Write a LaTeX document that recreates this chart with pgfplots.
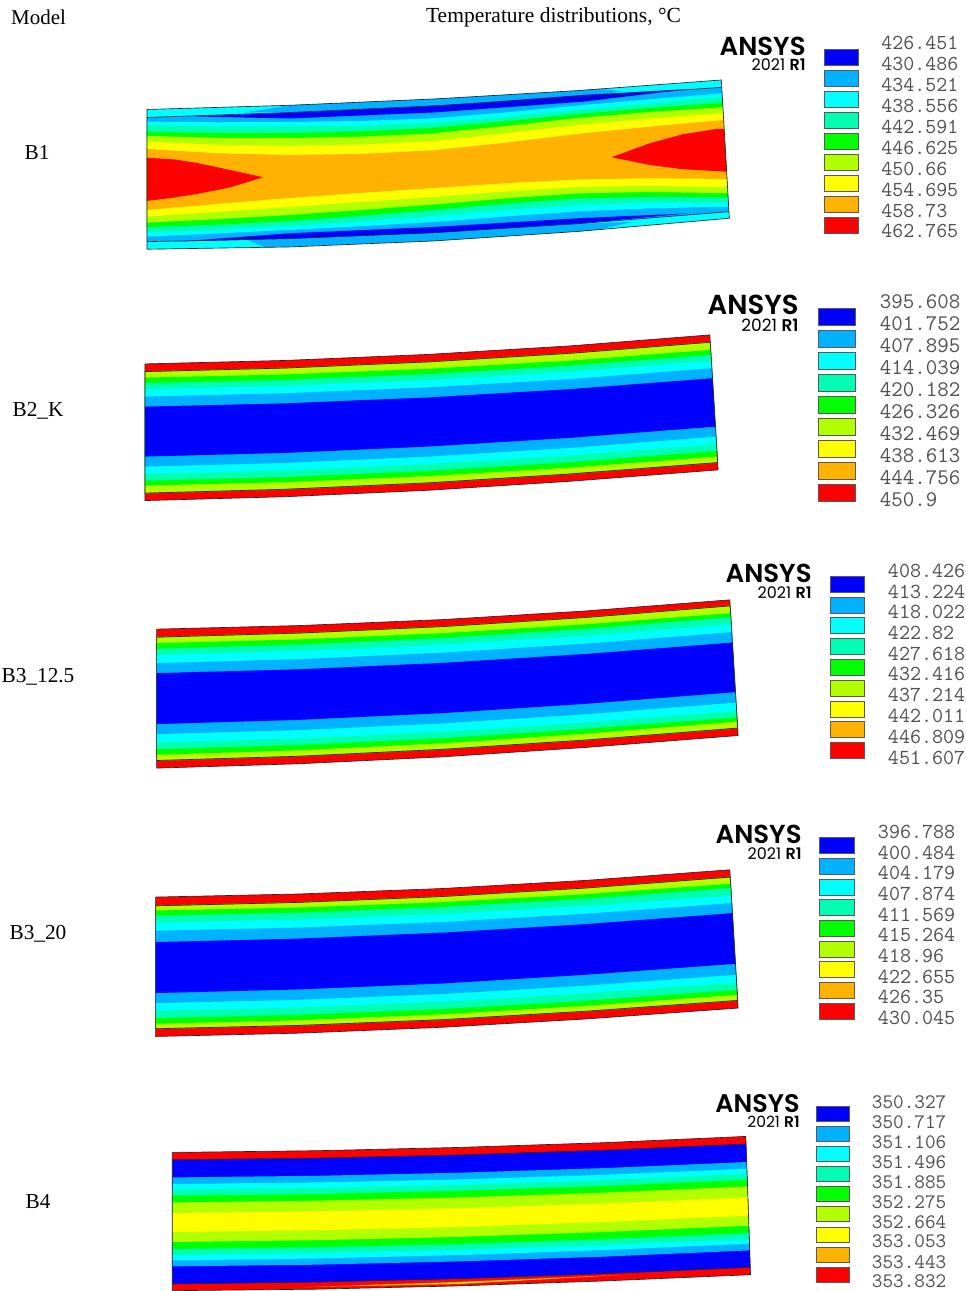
\documentclass[border=0pt]{standalone}
\usepackage{pgfplots}
\pgfplotsset{compat=1.18}
\usepackage{fontspec}
\setmainfont{Liberation Serif}
\newfontfamily\logofont{Poppins}[BoldFont={* SemiBold}]
\definecolor{cblue}{HTML}{0000FF}
\definecolor{clb}{HTML}{00B2FF}
\definecolor{ccy}{HTML}{00FFFF}
\definecolor{csg}{HTML}{00FFB2}
\definecolor{cgr}{HTML}{00FF00}
\definecolor{cyg}{HTML}{B2FF00}
\definecolor{cye}{HTML}{FFFF00}
\definecolor{cor}{HTML}{FFB200}
\definecolor{cre}{HTML}{FF0000}
\definecolor{colv}{HTML}{8CA000}
\definecolor{ltxt}{HTML}{505050}
\newcommand{\bd}[2]{\addplot[fill=#1,draw=none] coordinates {#2} --cycle;}
\newcommand{\bdo}[2]{\addplot[fill=#1,draw=colv,line width=0.9pt] coordinates {#2} --cycle;}
\newcommand{\ol}[1]{\addplot[color=black!85,line width=0.65pt] coordinates {#1};}
\newcommand{\sw}[5]{\addplot[fill=#1,draw=black!65,line width=0.8pt] coordinates {(#2,#4)(#3,#4)(#3,#5)(#2,#5)} --cycle;}
\newcommand{\lgv}[4]{\node[anchor=west,inner sep=0pt,text=ltxt,font=\ttfamily\fontsize{#1}{#1}\selectfont] at (axis cs:#2,#3) {#4};}
\newcommand{\logo}[5]{%
 \node[anchor=east,inner sep=0pt,font=\logofont\bfseries\fontsize{#3}{#3}\selectfont] at (axis cs:#1,#2) {ANSYS};
 \node[anchor=east,inner sep=0pt,font=\logofont\fontsize{#5}{#5}\selectfont] at (axis cs:#1,#4) {2021 \textbf{R1}};}
\newcommand{\lab}[3]{\node[font=\fontsize{21.3}{21.3}\selectfont,inner sep=0pt] at (axis cs:#1,#2) {#3};}
\begin{document}
\begin{tikzpicture}
\begin{axis}[anchor=south west,at={(0pt,0pt)},width=966pt,height=1291pt,scale only axis,
 xmin=0,xmax=966,ymin=0,ymax=1291,y dir=reverse,hide axis,clip=false]
\addplot[draw=none,fill=white] coordinates {(0,0)(966,0)(966,1291)(0,1291)} --cycle;
% ---------- B1
\bd{ccy}{(147,109.5)(290,105.3)(434,99)(578,90.6)(721.5,80)(721.9,87.3)(578,97.4)(434,105.8)(290,112.5)(147,117.5)}
\bd{ccy}{(147,241.7)(290,238.7)(434,232.8)(578,223.8)(729.1,211.7)(729.5,218.3)(578,231.5)(434,241)(290,247)(147,249.3)}
\bd{clb}{(245,112.5)(290,105.3)(434,99)(578,90.6)(600,88.8)(622,91.5)(578,97.4)(434,105.8)(290,112.5)}
\bd{clb}{(248,240)(265,247.5)(434,241)(578,231.5)(600,229.5)(632,222)(578,223.8)(434,232.8)(290,238.7)}
\bd{clb}{(147,117.5)(290,112.5)(434,105.8)(578,97.4)(721.9,87.3)(729.1,211.7)(578,223.8)(434,232.8)(290,238.7)(147,241.7)}
\bd{cblue}{(195,116.5)(290,112.7)(434,106)(583,95)(690,89)(583,101.7)(434,112.5)(290,118.5)}
\bd{cblue}{(180,241.5)(290,233.3)(434,227)(583,218)(688,213.5)(583,223.2)(434,232.8)(290,238.7)}
\bd{ccy}{(147,121.7)(218,122.3)(290,122)(362,121)(434,118.3)(506,112.4)(578,105.5)(650,99.3)(722.3,93.3)(728.8,206.7)(650,208.4)(578,211.5)(506,216.5)(434,222)(362,226.2)(290,230)(218,233.5)(147,236.7)}
\bd{csg}{(147,125)(218,126.4)(290,126.5)(362,125.5)(434,122.7)(506,116.9)(578,110)(650,103.5)(722.5,96.7)(728.6,202.7)(650,202.8)(578,205)(506,210)(434,216)(362,221.3)(290,226)(218,229.6)(147,232.3)}
\bd{cgr}{(147,131.7)(218,133.2)(290,133)(362,131.3)(434,127.7)(506,121.2)(578,114)(650,108)(722.8,102.7)(728.3,197.7)(650,196.8)(578,198.5)(506,203.6)(434,210)(362,215.8)(290,221)(218,224.7)(147,227.3)}
\bd{cyg}{(147,136)(218,137.8)(290,138)(362,136.7)(434,133.3)(506,126)(578,118)(650,112)(723.1,107.3)(728,193.3)(650,192)(578,193.5)(506,198.4)(434,204.5)(362,210)(290,215)(218,219.2)(147,222.7)}
\bd{cye}{(147,141.7)(218,144.9)(290,145.8)(362,144.7)(434,141)(506,133.4)(578,125)(650,118.6)(723.4,113.3)(727.7,187.3)(650,185.9)(578,187)(506,191.4)(434,197)(362,202)(290,207)(218,211.9)(147,216.7)}
\bd{cor}{(147,149)(218,153.3)(290,155)(362,154)(434,150.3)(506,142.7)(578,134)(650,126.7)(723.8,120)(727.2,179)(650,178.3)(578,179.5)(506,183.2)(434,188)(362,192.8)(290,198)(218,203.8)(147,210)}
\bd{cre}{(147,157.7)(175,159.5)(197,163)(230,170)(263,177.3)(230,187.5)(197,194)(175,197.5)(147,201)}
\bd{cre}{(611.7,157.3)(650,143.3)(683,134.3)(716.7,129)(724.3,129)(726.8,171.7)(683,169.3)(650,165)}
\ol{(147,117.5)(290,112.5)(434,105.8)(578,97.4)(721.9,87.3)}
\ol{(147,241.7)(290,238.7)(434,232.8)(578,223.8)(729.1,211.7)}
\ol{(147,109.5)(290,105.3)(434,99)(578,90.6)(721.5,80)(729.5,218.3)(578,231.5)(434,241)(290,247)(147,249.3)(147,109.5)}
% ---------- B2_K
\bd{cre}{(145,364)(286,360.5)(428,354.5)(570,346)(710,335)(718.3,470)(570,481.4)(428,490.4)(286,496.8)(145,500.7)}
\bdo{cyg}{(145,371.7)(286,368.1)(428,362)(570,353.4)(710.4,342.3)(717.8,462.7)(570,474.1)(428,483)(286,489.4)(145,493.3)}
\bd{cgr}{(145,377.7)(286,374.5)(428,368.9)(570,360.7)(710.9,350)(717.4,456.7)(570,467.7)(428,476.2)(286,482.2)(145,485.7)}
\bd{csg}{(145,383.3)(286,380)(428,374.2)(570,365.8)(711.2,355)(717.1,451)(570,462.2)(428,470.9)(286,477)(145,480.7)}
\bd{ccy}{(145,389.3)(286,386)(428,380.2)(570,371.8)(711.6,361)(716.7,444.3)(570,455.5)(428,464.2)(286,470.4)(145,474)}
\bd{clb}{(145,396.7)(286,393.3)(428,387.5)(570,379.2)(712,368.3)(716.2,436.7)(570,448)(428,456.7)(286,463)(145,466.7)}
\bd{cblue}{(145,406.7)(286,403.4)(428,397.5)(570,389.2)(712.7,378.3)(715.6,426.7)(570,438)(428,446.7)(286,453)(145,456.7)}
\ol{(145,371.7)(286,368.1)(428,362)(570,353.4)(710.4,342.3)}
\ol{(145,493.3)(286,489.4)(428,483)(570,474.1)(717.8,462.7)}
\ol{(145,364)(286,360.5)(428,354.5)(570,346)(710,335)(718.3,470)(570,481.4)(428,490.4)(286,496.8)(145,500.7)(145,364)}
% ---------- B3_12.5
\bd{cre}{(156.7,629.3)(300,625.7)(443,619.7)(586,611.1)(730,600)(738.3,735.7)(586,747.6)(443,757)(300,763.9)(156.7,768.3)}
\bdo{cyg}{(156.7,637.3)(300,633.2)(443,626.7)(586,617.6)(730.4,606)(737.8,728.3)(586,740.2)(443,749.5)(300,756.4)(156.7,760.7)}
\bd{cgr}{(156.7,643.3)(300,639.5)(443,633.3)(586,624.5)(730.8,613.3)(737.4,721.7)(586,733.8)(443,743.4)(300,750.4)(156.7,755)}
\bd{csg}{(156.7,649)(300,644.8)(443,638.2)(586,629)(731.1,617.3)(737.1,717.3)(586,729)(443,738.3)(300,745)(156.7,749.3)}
\bd{ccy}{(156.7,655)(300,651.1)(443,644.7)(586,635.7)(731.5,624.3)(736.7,711)(586,722.7)(443,731.9)(300,738.5)(156.7,742.7)}
\bd{clb}{(156.7,663.3)(300,659.3)(443,652.8)(586,643.8)(732,632.3)(736.2,702.7)(586,714.4)(443,723.5)(300,730.2)(156.7,734.3)}
\bd{cblue}{(156.7,673.3)(300,669.4)(443,663)(586,654.1)(732.6,642.7)(735.6,692.3)(586,704)(443,713.3)(300,720)(156.7,724.3)}
\ol{(156.7,637.3)(300,633.2)(443,626.7)(586,617.6)(730.4,606)}
\ol{(156.7,760.7)(300,756.4)(443,749.5)(586,740.2)(737.8,728.3)}
\ol{(156.7,629.3)(300,625.7)(443,619.7)(586,611.1)(730,600)(738.3,735.7)(586,747.6)(443,757)(300,763.9)(156.7,768.3)(156.7,629.3)}
% ---------- B3_20
\bd{cre}{(155.7,897.3)(299,894.2)(443,888.7)(586,880.6)(730,870)(738.3,1008.3)(586,1019.2)(443,1027.5)(299,1033.4)(155.7,1036.7)}
\bdo{cyg}{(155.7,906)(299,902.6)(443,896.7)(586,888.2)(730.4,877.3)(737.8,1000.7)(586,1011.5)(443,1019.9)(299,1025.7)(155.7,1029)}
\bd{cgr}{(155.7,910.7)(299,907.8)(443,902.4)(586,894.4)(730.8,884)(737.5,995)(586,1006)(443,1014.5)(299,1020.5)(155.7,1024)}
\bd{csg}{(155.7,916)(299,912.9)(443,907.2)(586,899)(731.1,888.3)(737.2,990)(586,1000.9)(443,1009.2)(299,1015)(155.7,1018.3)}
\bd{ccy}{(155.7,922.7)(299,919.7)(443,914.2)(586,906.2)(731.5,895.7)(736.8,982.7)(586,993.5)(443,1001.9)(299,1007.7)(155.7,1011)}
\bd{clb}{(155.7,931)(299,927.8)(443,922.2)(586,914)(732,903.3)(736.3,975)(586,985.8)(443,994.2)(299,1000)(155.7,1003.3)}
\bd{cblue}{(155.7,942.3)(299,938.8)(443,932.8)(586,924.3)(732.6,913.3)(735.6,964)(586,975)(443,983.7)(299,989.7)(155.7,993.3)}
\ol{(155.7,906)(299,902.6)(443,896.7)(586,888.2)(730.4,877.3)}
\ol{(155.7,1029)(299,1025.7)(443,1019.9)(586,1011.5)(737.8,1000.7)}
\ol{(155.7,897.3)(299,894.2)(443,888.7)(586,880.6)(730,870)(738.3,1008.3)(586,1019.2)(443,1027.5)(299,1033.4)(155.7,1036.7)(155.7,897.3)}
% ---------- B4
\bd{cre}{(172.3,1152.7)(316,1151)(459,1147.7)(603,1143)(746,1136.7)(750.7,1275)(603,1281.3)(459,1286.2)(316,1289.5)(172.3,1291)}
\bd{cor}{(303,1287.5)(459,1282.2)(620,1275.3)(459,1284.4)}
\bd{cye}{(370,1285.2)(459,1283)(560,1278.6)(459,1283.7)}
\bd{cblue}{(172.3,1160)(316,1158.4)(459,1155.2)(603,1150.5)(746.3,1144.3)(750.5,1267.7)(603,1274.1)(459,1279)(316,1282.4)(172.3,1284.3)}
\bd{clb}{(172.3,1177.7)(316,1176.1)(459,1173)(603,1168.4)(746.9,1162.3)(749.9,1250.7)(603,1257)(459,1261.7)(316,1265)(172.3,1266.7)}
\bd{ccy}{(172.3,1184.3)(316,1182.7)(459,1179.7)(603,1175.1)(747.1,1169)(749.7,1244)(603,1250.4)(459,1255.4)(316,1258.8)(172.3,1260.7)}
\bd{csg}{(172.3,1190)(316,1188.3)(459,1185.2)(603,1180.5)(747.3,1174.3)(749.6,1239)(603,1245.3)(459,1250)(316,1253.3)(172.3,1255)}
\bd{cgr}{(172.3,1196)(316,1194.3)(459,1191)(603,1186.3)(747.5,1180)(749.3,1233.3)(603,1239.5)(459,1244.3)(316,1247.5)(172.3,1249.3)}
\bd{cyg}{(172.3,1202.7)(316,1201)(459,1197.7)(603,1193)(747.7,1186.7)(749.1,1226)(603,1232.3)(459,1237.2)(316,1240.5)(172.3,1242.3)}
\bd{cye}{(172.3,1213.3)(316,1211.6)(459,1208.5)(603,1203.9)(748.1,1197.7)(748.8,1216)(603,1222.3)(459,1227.2)(316,1230.5)(172.3,1232.3)}
\ol{(172.3,1160)(316,1158.4)(459,1155.2)(603,1150.5)(746.3,1144.3)}
\ol{(172.3,1284.3)(316,1282.4)(459,1279)(603,1274.1)(750.5,1267.7)}
\ol{(172.3,1152.7)(316,1151)(459,1147.7)(603,1143)(746,1136.7)(750.7,1275)(603,1281.3)(459,1286.2)(316,1289.5)(172.3,1291)(172.3,1152.7)}
% ---------- swatches
\sw{cblue}{825}{859}{49}{65}\sw{clb}{825}{859}{70}{86}\sw{ccy}{825}{859}{91}{107}\sw{csg}{825}{859}{112}{128}\sw{cgr}{825}{859}{133}{149}\sw{cyg}{825}{859}{154}{170}\sw{cye}{825}{859}{175}{191}\sw{cor}{825}{859}{196}{212}\sw{cre}{825}{859}{217}{233}
\sw{cblue}{819}{856}{308}{325}\sw{clb}{819}{856}{330}{347}\sw{ccy}{819}{856}{352}{369}\sw{csg}{819}{856}{374}{391}\sw{cgr}{819}{856}{396}{413}\sw{cyg}{819}{856}{419}{436}\sw{cye}{819}{856}{441}{458}\sw{cor}{819}{856}{463}{480}\sw{cre}{819}{856}{485}{502}
\sw{cblue}{831}{865}{577}{593}\sw{clb}{831}{865}{598}{614}\sw{ccy}{831}{865}{618}{634}\sw{csg}{831}{865}{639}{655}\sw{cgr}{831}{865}{660}{676}\sw{cyg}{831}{865}{681}{697}\sw{cye}{831}{865}{702}{718}\sw{cor}{831}{865}{722}{738}\sw{cre}{831}{865}{743}{759}
\sw{cblue}{820}{855}{838}{854}\sw{clb}{820}{855}{859}{875}\sw{ccy}{820}{855}{880}{896}\sw{csg}{820}{855}{900}{916}\sw{cgr}{820}{855}{921}{937}\sw{cyg}{820}{855}{942}{958}\sw{cye}{820}{855}{962}{978}\sw{cor}{820}{855}{983}{999}\sw{cre}{820}{855}{1004}{1020}
\sw{cblue}{817}{850}{1107}{1122}\sw{clb}{817}{850}{1127}{1142}\sw{ccy}{817}{850}{1147}{1162}\sw{csg}{817}{850}{1167}{1182}\sw{cgr}{817}{850}{1187}{1202}\sw{cyg}{817}{850}{1207}{1222}\sw{cye}{817}{850}{1228}{1243}\sw{cor}{817}{850}{1248}{1263}\sw{cre}{817}{850}{1268}{1283}
% ---------- legend values
\lgv{21.3}{881.5}{43}{426.451}\lgv{21.3}{881.5}{64}{430.486}\lgv{21.3}{881.5}{85}{434.521}\lgv{21.3}{881.5}{106}{438.556}\lgv{21.3}{881.5}{127}{442.591}\lgv{21.3}{881.5}{148}{446.625}\lgv{21.3}{881.5}{169}{450.66}\lgv{21.3}{881.5}{190}{454.695}\lgv{21.3}{881.5}{211}{458.73}\lgv{21.3}{881.5}{231}{462.765}
\lgv{22.3}{880}{302}{395.608}\lgv{22.3}{880}{324}{401.752}\lgv{22.3}{880}{346}{407.895}\lgv{22.3}{880}{368}{414.039}\lgv{22.3}{880}{390}{420.182}\lgv{22.3}{880}{412}{426.326}\lgv{22.3}{880}{434}{432.469}\lgv{22.3}{880}{456}{438.613}\lgv{22.3}{880}{478}{444.756}\lgv{22.3}{880}{500}{450.9}
\lgv{21.4}{888}{571}{408.426}\lgv{21.4}{888}{592}{413.224}\lgv{21.4}{888}{612}{418.022}\lgv{21.4}{888}{633}{422.82}\lgv{21.4}{888}{654}{427.618}\lgv{21.4}{888}{674}{432.416}\lgv{21.4}{888}{695}{437.214}\lgv{21.4}{888}{716}{442.011}\lgv{21.4}{888}{737}{446.809}\lgv{21.4}{888}{758}{451.607}
\lgv{21.4}{878}{832}{396.788}\lgv{21.4}{878}{853}{400.484}\lgv{21.4}{878}{873}{404.179}\lgv{21.4}{878}{894}{407.874}\lgv{21.4}{878}{915}{411.569}\lgv{21.4}{878}{935}{415.264}\lgv{21.4}{878}{956}{418.96}\lgv{21.4}{878}{977}{422.655}\lgv{21.4}{878}{997}{426.35}\lgv{21.4}{878}{1018}{430.045}
\lgv{20.6}{872}{1102}{350.327}\lgv{20.6}{872}{1122}{350.717}\lgv{20.6}{872}{1142}{351.106}\lgv{20.6}{872}{1162}{351.496}\lgv{20.6}{872}{1182}{351.885}\lgv{20.6}{872}{1202}{352.275}\lgv{20.6}{872}{1222}{352.664}\lgv{20.6}{872}{1242}{353.053}\lgv{20.6}{872}{1262}{353.443}\lgv{20.6}{872}{1282}{353.832}
% ---------- logos
\logo{806}{46}{26}{65}{16}
\logo{799}{305}{27.5}{325}{17}
\logo{812}{574}{26}{593}{16}
\logo{802}{835}{26}{854}{16}
\logo{800}{1104}{25.5}{1122}{15.5}
% ---------- labels
\node[font=\fontsize{21}{21}\selectfont,anchor=west,inner sep=0pt] at (axis cs:11,17) {Model};
\node[font=\fontsize{21.5}{21.5}\selectfont,anchor=west,inner sep=0pt] at (axis cs:426,17.5) {Temperature distributions, °C};
\lab{37}{153}{B1}
\lab{38}{411}{B2\_K}
\lab{38}{677}{B3\_12.5}
\lab{38}{934}{B3\_20}
\lab{38}{1202}{B4}
\end{axis}
\end{tikzpicture}
\end{document}
